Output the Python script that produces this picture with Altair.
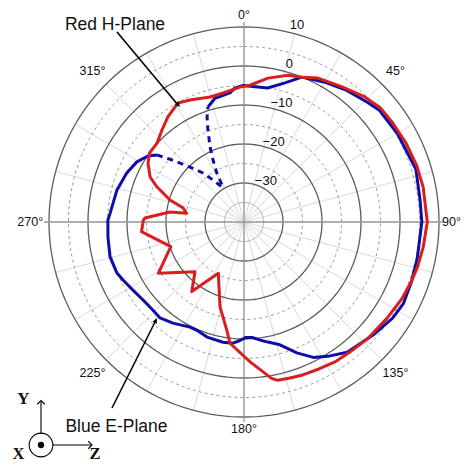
import altair as alt
import numpy as np
import pandas as pd

# ---------------- data (angle in degrees clockwise from top, level in dB) ----------------
red_angle = [0, 2.5, 9.5, 16.7, 21.8, 27.2, 36, 44, 50, 56, 64, 72, 79, 90, 98, 104, 109, 116,
             124, 133, 141, 147, 153, 159, 164, 168, 170, 177.5, 186.6, 189.1, 195.8, 206.6,
             216.9, 224.6, 239.1, 251.4, 264.6, 271.1, 272.3, 277.7, 278.6, 283, 286.6, 292,
             295.6, 301.6, 306.3, 312.2, 318.3, 324.1, 331, 336.1, 344.8, 350.8, 358.3, 360]
red_db = [-5.2, -4.9, -2.6, -0.7, 0.0, 1.5, 2.8, 4.6, 5.6, 5.8, 6.2, 6.6, 6.8, 7.0, 6.4, 6.0, 5.6, 5.0,
          4.2, 3.6, 3.0, 2.8, 2.3, 2.0, 1.7, 1.5, 0.7, -4.1, -8.7, -12.0, -17.4, -25.3,
          -17.7, -22.1, -14.4, -20.2, -13.6, -14.2, -14.6, -20.8, -25.1, -24.0, -20.2, -15.9,
          -13.3, -11.1, -10.0, -9.9, -8.4, -6.7, -5.1, -5.8, -6.8, -6.5, -5.4, -5.2]

blue_angle = [342.6, 346.8, 353.8, 356, 359.6, 370, 376.4, 381.8, 390, 398, 406, 410.5, 420, 433,
              443, 450, 462, 470, 477, 482.8, 491.2, 501.6, 507.3, 512.9, 518, 523.7, 528.7,
              532, 536, 539, 542, 545.2, 549.9, 557.8, 563.5, 567.2, 575.1, 581.2, 586, 592.3,
              598.5, 604.4, 608.1, 615.4, 623.7, 630.8, 633.8, 644, 652.7, 659.3, 664.5, 667.6]
blue_db = [-9.1, -7.4, -6.7, -5.6, -5.0, -5.1, -2.8, 0.0, 1.4, 2.8, 4.1, 5.0, 5.4, 6.1,
           5.5, 5.6, 5.4, 5.6, 5.9, 5.4, 4.0, 2.6, 0.8, -1.0, -3.8, -7.2, -8.6,
           -9.4, -10.3, -10.4, -9.6, -8.8, -8.7, -9.0, -9.7, -9.7, -8.3, -7.3, -7.5, -7.3,
           -6.6, -5.6, -4.9, -4.5, -4.9, -5.1, -5.6, -6.4, -7.4, -8.5, -10.1, -11.8]

blue_null_angle = [307.6, 311, 315.5, 320, 323.6, 327.8, 329, 331, 333.4, 335.6, 338.6, 340.6, 342.6]
blue_null_db = [-11.8, -15.9, -20.3, -23.6, -26.6, -29.4, -29.5, -25.6, -22.3, -19.0, -14.6, -11.5, -9.1]

ring_major = [10, 0, -10, -20, -30]
ring_minor = [5, -5, -15, -25]
ring_inner = [-35]
spoke_angles = list(range(0, 360, 15))
main_angles = [0, 90, 180, 270]
angle_label_deg = [0, 45, 90, 135, 180, 225, 270, 315]
angle_label_text = ["0°", "45°", "90°", "135°", "180°", "225°", "270°", "315°"]
level_label_db = [10, 0, -10, -20, -30]
level_label_text = ["10", "0", "−10", "−20", "−30"]

# ---------------- geometry helpers ----------------
FLOOR = -40
PX = 3.9          # pixels per dB
CX, CY = 244, 222 # pole position on the page
W, H = 454, 455


def ux(px):
    return (px - CX) / PX


def uy(py):
    return (CY - py) / PX


xs = alt.Scale(domain=[ux(8), ux(8 + W)], nice=False, zero=False)
ys = alt.Scale(domain=[uy(8 + H), uy(8)], nice=False, zero=False)
X = alt.X("x:Q", scale=xs, axis=None)
Y = alt.Y("y:Q", scale=ys, axis=None)

XY = dict(x="datum.r * sin(datum.ang * PI / 180)", y="datum.r * cos(datum.ang * PI / 180)")

RED = "#d81e1e"
BLUE = "#0e0ea6"

# ---------------- grid ----------------
grid_ang = np.arange(0, 361, 2)


def ring_df(levels):
    rows = []
    for lv in levels:
        for a in grid_ang:
            rows.append({"lvl": lv, "ang": float(a)})
    return pd.DataFrame(rows)


def rings(levels, **style):
    return (alt.Chart(ring_df(levels))
            .transform_calculate(r=f"datum.lvl - ({FLOOR})")
            .transform_calculate(**XY)
            .mark_line(**style)
            .encode(x=X, y=Y, detail="lvl:N", order="ang:Q"))


spokes = (alt.Chart(pd.DataFrame({"ang": spoke_angles}))
          .transform_calculate(r="50", x0="0", y0="0")
          .transform_calculate(**XY)
          .mark_rule(color="#dadada", strokeWidth=1)
          .encode(x=alt.X("x0:Q", scale=xs, axis=None), y=alt.Y("y0:Q", scale=ys, axis=None),
                  x2="x:Q", y2="y:Q"))

main_axes = (alt.Chart(pd.DataFrame({"ang": main_angles}))
             .transform_calculate(r="51.3", x0="0", y0="0")
             .transform_calculate(**XY)
             .mark_rule(color="#9a9a9a", strokeWidth=1.3)
             .encode(x=alt.X("x0:Q", scale=xs, axis=None), y=alt.Y("y0:Q", scale=ys, axis=None),
                     x2="x:Q", y2="y:Q"))

inner = rings(ring_inner, color="#a8a8a8", strokeWidth=1)
minor = rings(ring_minor, color="#9a9a9a", strokeWidth=1, strokeDash=[3, 3])
major = rings(ring_major, color="#5c5c5c", strokeWidth=1.3)

angle_labels = (alt.Chart(pd.DataFrame({"ang": angle_label_deg, "t": angle_label_text}))
                .transform_calculate(r="53.2 + 1.6 * abs(sin(datum.ang * PI / 180)) + 0.6 * abs(sin(datum.ang * PI / 90))")
                .transform_calculate(**XY)
                .transform_calculate(x=f"min(datum.x, {ux(451.5)})")
                .mark_text(font="Liberation Sans", fontSize=12.5, color="#111",
                           align="center", baseline="middle")
                .encode(x=X, y=Y, text="t:N"))

level_labels = (alt.Chart(pd.DataFrame({"lvl": level_label_db, "t": level_label_text}))
                .transform_calculate(r=f"datum.lvl - ({FLOOR})")
                .transform_calculate(x="0.2 * datum.r + 3.6", y="datum.r + 0.6")
                .mark_text(font="Liberation Sans", fontSize=13, color="#111",
                           align="center", baseline="middle")
                .encode(x=X, y=Y, text="t:N"))

# ---------------- curves ----------------


def curve(ang, db, **style):
    df = pd.DataFrame({"ang": ang, "db": db, "i": range(len(ang))})
    return (alt.Chart(df)
            .transform_calculate(r=f"max(datum.db - ({FLOOR}), 0)")
            .transform_calculate(**XY)
            .mark_line(strokeJoin="round", **style)
            .encode(x=X, y=Y, order="i:Q"))


blue_line = curve(blue_angle, blue_db, color=BLUE, strokeWidth=3)
blue_null = curve(blue_null_angle, blue_null_db, color=BLUE, strokeWidth=3, strokeDash=[6, 5])
red_line = curve(red_angle, red_db, color=RED, strokeWidth=3)

# ---------------- annotations ----------------
ann_text = pd.DataFrame({
    "t": ["Red H-Plane", "Blue E-Plane"],
    "x": [ux(115), ux(116.5)],
    "y": [uy(30), uy(432)],
})
ann = (alt.Chart(ann_text)
       .mark_text(font="Liberation Sans", fontSize=17.5, color="#111", align="center",
                  baseline="alphabetic")
       .encode(x=X, y=Y, text="t:N"))

arrow_lines = pd.DataFrame({
    "x": [ux(117), ux(112)], "y": [uy(32), uy(408)],
    "x2": [ux(178), ux(156)], "y2": [uy(105), uy(320)],
})
arrows = (alt.Chart(arrow_lines).mark_rule(color="black", strokeWidth=1.6)
          .encode(x=X, y=Y, x2="x2:Q", y2="y2:Q"))

heads = pd.DataFrame({"x": [ux(180), ux(157)], "y": [uy(107), uy(318)], "a": [140, 26.6]})
arrow_heads = (alt.Chart(heads)
               .mark_point(shape="M0,0L-0.45,1L0.45,1Z", filled=True, color="black", size=110, opacity=1)
               .encode(x=X, y=Y, angle=alt.Angle("a:Q", scale=None)))

# coordinate glyph (X out of page, Y up, Z right)
GY = 445
glyph_lines = pd.DataFrame({
    "x": [ux(41), ux(53)], "y": [uy(GY - 11.5), uy(GY)],
    "x2": [ux(41), ux(91)], "y2": [uy(401), uy(GY)],
})
g_lines = (alt.Chart(glyph_lines).mark_rule(color="black", strokeWidth=1.1)
           .encode(x=X, y=Y, x2="x2:Q", y2="y2:Q"))
g_heads = (alt.Chart(pd.DataFrame({"x": [ux(41), ux(92)], "y": [uy(400.5), uy(GY)], "a": [0, 90]}))
           .mark_point(shape="M-0.75,0.75L0,0L0.75,0.75", filled=False, color="black",
                       strokeWidth=1.1, size=100, opacity=1)
           .encode(x=X, y=Y, angle=alt.Angle("a:Q", scale=None)))
g_circle = (alt.Chart(pd.DataFrame({"x": [ux(41)], "y": [uy(GY)]}))
            .mark_point(shape="circle", filled=False, color="black", strokeWidth=1.1, size=560, opacity=1)
            .encode(x=X, y=Y))
g_dot = (alt.Chart(pd.DataFrame({"x": [ux(41)], "y": [uy(GY)]}))
         .mark_point(shape="circle", filled=True, color="black", size=40, opacity=1)
         .encode(x=X, y=Y))
g_text_y = (alt.Chart(pd.DataFrame({"t": ["Y"], "x": [ux(23.5)], "y": [uy(399)]}))
            .mark_text(font="Liberation Serif", fontWeight="bold", fontSize=17, color="#111",
                       align="center", baseline="middle")
            .encode(x=X, y=Y, text="t:N"))
g_text_xz = (alt.Chart(pd.DataFrame({"t": ["X", "Z"], "x": [ux(18.5), ux(95)], "y": [uy(462), uy(462)]}))
             .mark_text(font="Liberation Serif", fontWeight="bold", fontSize=16.5, color="#111",
                        align="center", baseline="bottom")
             .encode(x=X, y=Y, text="t:N"))

chart = alt.layer(
    spokes, inner, minor, major, main_axes,
    blue_line, blue_null, red_line,
    angle_labels, level_labels,
    arrows, arrow_heads, ann,
    g_lines, g_heads, g_circle, g_dot, g_text_y, g_text_xz,
).properties(
    width=W, height=H, padding=0,
    autosize=alt.AutoSizeParams(type="none"),
    background="white",
).configure_view(strokeOpacity=0)

chart.save("out.html", embed_options={"renderer": "svg", "actions": False})
